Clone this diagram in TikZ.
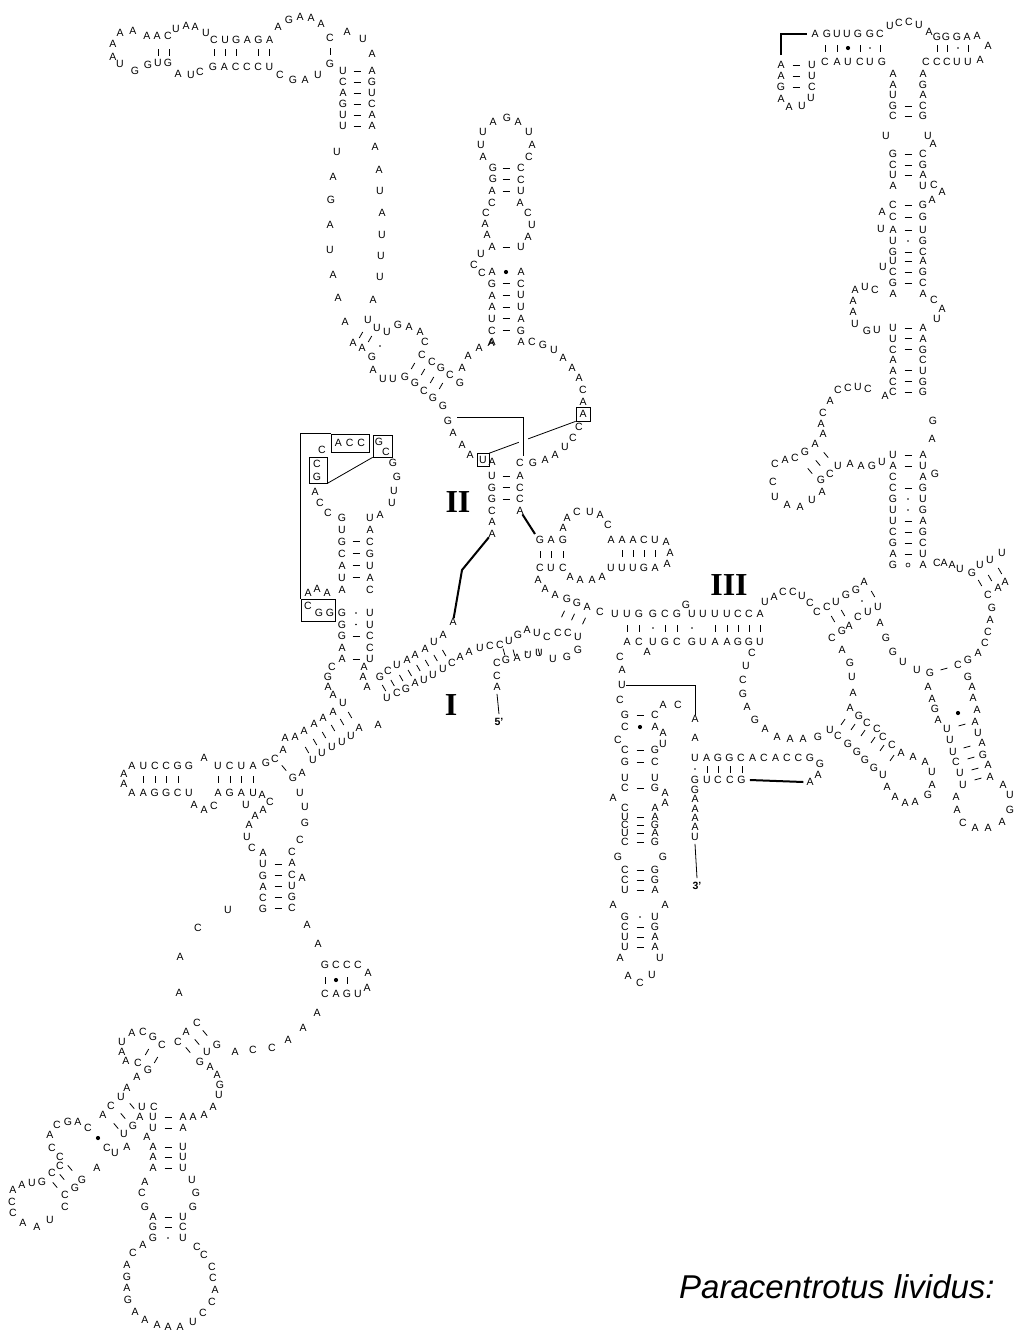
\documentclass[tikz,border=0pt]{standalone}
\usepackage{fontspec}
\setsansfont{Liberation Sans}
\newfontfamily\romanfont{Liberation Serif}
\usetikzlibrary{calc}
\tikzset{
  nt/.style={font=\sffamily\fontsize{10.5}{10.5}\selectfont,inner sep=0pt},
  boxed/.style={draw,line width=0.7pt,inner sep=0pt},
  roman/.style={font=\romanfont\bfseries\fontsize{32}{32}\selectfont,inner sep=0pt},
  endlabel/.style={font=\sffamily\bfseries\fontsize{10.5}{10.5}\selectfont,inner sep=0pt},
  link/.style={line width=0.8pt},
  bold link/.style={line width=2pt}
}
% pair marks: l = bar, d = dot, b = bullet, o = ring, n = none
\newcommand\bpl{\draw[line width=0.8pt] (-3.5,0) -- (3.5,0);}
\newcommand\bpd{\fill (0,0) circle (0.9pt);}
\newcommand\bpb{\fill (0,0) circle (2.1pt);}
\newcommand\bpo{\draw[line width=0.6pt] (0,0) circle (2pt);}
\newcommand\bpn{}
\newcommand\nts[1]{\foreach \px/\py/\ch in {#1}{\node[nt] at (\px,\py) {\ch};}}
\newcommand\strand[5]{\foreach \ch [count=\kk from 0] in {#5}{\node[nt] at ({#1+\kk*(#3)},{#2+\kk*(#4)}) {\ch};}}
\newcommand\bppairs[6]{\foreach \tp [count=\kk from 0] in {#6}{\begin{scope}[shift={({#1+\kk*(#3)},{#2+\kk*(#4)})},rotate=#5]\csname bp\tp\endcsname\end{scope}}}
\newcommand\bpmarks[1]{\foreach \px/\py/\ang/\tp in {#1}{\begin{scope}[shift={(\px,\py)},rotate=\ang]\csname bp\tp\endcsname\end{scope}}}
\begin{document}
\begin{tikzpicture}[x=1pt,y=-1pt]
\useasboundingbox (0,0) rectangle (1013,1331);

% Top left hairpin
\nts{113/57/A,113/44/A,120/33/A,133/31/A,147/36/A,157/36/A,168/36/C,176/29/U,186/26/A,195/27/A,206/33/U}
\strand{214}{40}{11.1}{0}{C,U,G,A,G,A}
\nts{278/27/A,289/20/G,300/17/A,311/18/A,321/24/A,330/38/C,347/32/A,363/39/U,372/54/A}
\nts{120/64/U,135/71/G,148/65/G,158/63/U,168/63/G,178/74/A,191/75/U,200/72/C}
\strand{213}{67}{11.3}{0}{G,A,C,C,C,U}
\nts{280/75/C,293/80/G,305/80/A,318/75/U,330/64/G}
\bpmarks{158/52/90/l,169/52/90/l,214/52/90/l,225/52/90/l,236/52/90/l,258/52/90/l,269/52/90/l,330/51/90/l}
\strand{343}{71}{0}{11}{U,C,A,G,U,U}
\strand{372}{71}{0}{11}{A,G,U,C,A,A}
\bppairs{357}{71}{0}{11}{0}{l,l,l,l,l,l}
\nts{337/152/U,333/177/A,331/200/G,330/225/A,330/250/U,333/275/A,338/298/A,345/322/A}
\nts{375/147/A,379/170/A,380/191/U,382/213/A,382/235/U,381/256/U,380/277/U,373/300/A}

% Junction under the long strands
\nts{368/320/U,377/328/U,387/332/U,398/325/G,409/327/A,420/332/A,425/342/C}
\nts{353/343/A,362/348/A,372/357/G,373/370/A,383/379/U,393/379/U}
\bpmarks{361/335/60/l,370/339/60/l,380/346/0/d}
\nts{422/355/C,432/362/C,441/368/G,450/375/C,460/383/G}
\nts{405/377/G,415/383/G,424/391/C,433/398/G,443/406/G}
\bpmarks{413/366/60/l,423/372/60/l,432/380/60/l,441/386/60/l}
\nts{462/368/A,468/356/A,479/348/A,491/343/A}
\nts{453/433/A,462/445/A,470/455/A,492/462/A}
\node[nt] (gII) at (448,421) {G};
\node[nt,boxed,minimum width=12pt,minimum height=13pt] (ubox) at (483,460) {U};

% Top centre hairpin
\nts{474/265/C,482/273/C,481/254/U,492/247/A,487/235/A,485/224/A,486/213/C,492/203/C,492/191/A,493/179/G,493/168/G,483/157/A,481/145/U,483/132/U,493/122/A,507/118/G,518/122/A,529/132/U,532/145/A,529/157/C}
\strand{492}{272}{0}{11.7}{A,G,A,A,U,C,A}
\strand{521}{168}{0}{11.5}{C,C,U}
\nts{520/203/A,528/213/C,532/225/U,528/237/A,521/247/U}
\strand{521}{272}{0}{11.7}{A,C,U,U,A,G,A}
\bppairs{506}{168}{0}{11.5}{0}{l,l,l}
\bpmarks{506/247/0/l}
\bppairs{506}{272}{0}{11.7}{0}{b,l,l,l,l,l}
\nts{532/342/C,543/345/G,554/350/U,563/358/A,572/368/A,579/378/A,583/390/C,583/402/A,579/427/C,573/438/C,565/447/U,555/455/A,545/460/A,533/463/G}
\node[nt,boxed,minimum width=14pt,minimum height=14pt] (abox) at (583,414) {A};

% Helix II
\strand{492}{476}{0}{11.5}{U,G,G,C,A}
\node[nt] (aIIb) at (492,533.5) {A};
\nts{520/463/C}
\strand{520}{476}{0}{11.5}{A,C,C}
\node[nt] (aII) at (520,510.5) {A};
\bppairs{506}{476}{0}{11.5}{0}{l,l,l}
\node[roman] (two) at (458,502) {II};
\coordinate (k1) at (457,417);
\coordinate (k2) at (523,456);
\draw[link] (k1) -| (k2);
\draw[link] (ubox.north east) -- ($(ubox.north east)!0.34!(abox.south west)$);
\draw[link] ($(ubox.north east)!0.45!(abox.south west)$) -- (abox.south west);

% Left hairpin with boxes
\nts{322/450/C}
\node[nt,boxed,minimum width=38pt,minimum height=18pt] (acc) at (350,443) {A\hspace{4pt}C\hspace{4pt}C};
\node[boxed,minimum width=19pt,minimum height=22pt] (gcb) at (382.5,446) {};
\nts{379/442/G,386/452/C}
\node[boxed,minimum width=18pt,minimum height=26pt] (cgb) at (318,470) {};
\nts{317/464/C,317/477/G}
\node[boxed,minimum width=34pt,minimum height=22pt] (cggb) at (318,610) {};
\nts{308/606/C,319/613/G,330/613/G}
\draw[link] (acc.north west) -| (cggb.north west);
\draw[link] (cgb.south east) -- (gcb.south west);
\nts{393/463/G,397/477/G,394/491/U,392/503/U,380/515/A,315/492/A,320/503/C,328/513/C}
\strand{342}{518}{0}{11.9}{G,U,G,C,A,U,A}
\strand{370}{518}{0}{11.9}{U,A,C,G,U,A,C}
\bppairs{356}{541.8}{0}{11.9}{0}{l,l,l,l}
\nts{308/593/A,317/589/A,327/593/A}
\strand{342}{613}{0}{11.5}{G,G,G,A,A}
\strand{370}{613}{0}{11.5}{U,U,C,C,U}
\bppairs{356}{613}{0}{11.5}{0}{d,d,l,n,l}
\nts{332/667/C,328/677/G,328/687/A,333/695/A,343/703/U,364/667/A,363/677/A,367/687/A}

% Helix I
\nts{380/677/G,388/671/C,397/665/U,407/660/A,415/655/A,425/649/A,434/642/U,443/635/A}
\node[nt] (aI) at (453,622) {A};
\nts{387/698/U,397/693/C,406/689/G,415/683/A,424/680/U,433/675/U,443/669/U,452/663/C,460/657/A,469/652/A,480/648/U,490/646/C,500/645/C,509/641/U,518/635/G,527/630/A,537/633/U,547/637/C,558/633/C,568/633/C,578/637/U}
\bppairs{384}{688}{8.6}{-5}{-60}{l,l,l,l,l,l,l,l}
\nts{506/660/G,517/658/A,528/655/U,539/653/U,553/659/U,567/657/G,578/650/G}
\bpmarks{504/652/105/l,514/653/105/l,527/652/0/d,539/652/105/l}
\nts{497/663/C,497/676/C}
\node[nt] (a5) at (497,687) {A};
\node[endlabel] (p5) at (499,722) {5’};
\draw[link] ([yshift=-3pt]a5.south) -- ([yshift=4pt]p5.north);
\node[roman] (one) at (451,705) {I};
\draw[bold link] (aII) -- (535,534);
\draw[bold link] (aIIb) -- (462,570) -- (aI);

% GAG hairpin
\nts{540/540/G,551/540/A,563/540/G,563/528/A,567/518/A,577/512/C,590/512/U,600/515/A,608/525/C}
\bpmarks{540/554/90/l,551/554/90/l,563/554/90/l}
\nts{540/568/C,551/568/U,563/568/C,570/577/A,580/580/A,592/580/A,602/577/A}
\nts{538/580/A,545/589/A,555/595/A,567/599/G,577/603/G,587/607/A,600/612/C}
\bpmarks{563/614/65/l,573/617/65/l,584/621/65/l}
\nts{611/540/A,622/540/A,633/540/A,644/540/C,655/540/U,666/542/A,670/553/A,667/564/A}
\bpmarks{622/553/90/l,633/553/90/l,644/553/90/l,655/553/90/l}
\strand{611}{568}{11}{0}{U,U,U,G,A}

% Helix III
\nts{615/614/U,627/614/U,639/614/G,653/614/G,665/614/C,677/614/G,686/605/G,692/614/U,703/614/U,715/614/U,727/614/U,738/614/C,749/614/C,760/614/A}
\bpmarks{627/628/90/l,639/628/90/l,653/628/0/d,665/628/90/l,677/628/90/l,692/628/0/d,715/628/90/l,727/628/90/l,738/628/90/l,749/628/90/l,760/628/90/l}
\nts{627/642/A,639/642/C,647/652/A,653/642/U,665/642/G,677/642/C,692/642/G,703/642/U,715/642/A,727/642/A,738/642/G,749/642/G,760/642/U}
\node[roman] (three) at (729,585) {III};

% Long hairpin below helix III
\nts{620/657/C,622/670/A,620/700/C,663/705/A,678/705/C}
\node[nt] (uL) at (622,685) {U};
\nts{625/715/G,625/727/C,618/740/C,625/750/C,625/762/G,625/778/U,625/788/C,613/798/A,625/808/C,625/817/U,625/825/C,625/833/U,625/842/C,618/857/G,625/870/C,625/880/C,625/890/U,613/905/A,625/917/G,625/927/C,625/937/U,625/947/U,620/958/A}
\nts{655/715/C,655/727/A,663/733/A,663/744/U,655/750/G,655/762/C,655/778/U,655/788/G,665/793/A,665/803/A,655/808/A,655/817/A,655/825/G,655/833/A,655/842/G,663/857/G,655/870/G,655/880/G,655/890/A,665/905/A,655/917/U,655/927/G,655/937/A,655/947/A,660/958/U}
\bpmarks{640/715/0/l,640/727/0/b,640/750/0/l,640/762/0/l,640/788/0/l,640/817/0/l,640/825/0/l,640/833/0/l,640/842/0/l,640/870/0/l,640/880/0/l,640/890/0/l,640/917/0/d,640/927/0/l,640/937/0/l,640/947/0/l}
\nts{628/976/A,640/983/C,652/975/U}

% 3' end
\node[nt] (aT) at (695,719) {A};
\nts{695/738/A}
\draw[link] (uL.east) -| (aT.north);
\strand{695}{758}{11.5}{0}{U,A,G,G,C,A,C,A,C,C,G}
\nts{820/764/G,818/775/A}
\node[nt] (aR) at (810,782) {A};
\bpmarks{695/769/0/d,707/769/90/l,718/769/90/l,730/769/90/l,742/769/90/l}
\nts{695/780/G,707/780/U,718/780/C,730/780/C}
\node[nt] (gR) at (741.5,780) {G};
\draw[bold link] ([xshift=4pt]gR.east) -- ([xshift=-3pt]aR.west);
\strand{695}{790}{0}{9.3}{G,A,A,A,A}
\node[nt] (uE) at (695,837) {U};
\node[endlabel] (p3) at (697,886) {3’};
\draw[link] ([yshift=-3pt]uE.south) -- ([yshift=4pt]p3.north);

% Middle multiloop right of III
\nts{765/602/U,774/597/A,783/592/C,793/592/C,802/596/U,810/603/C,817/612/C,827/607/C,836/602/U,846/595/G,856/590/G,864/582/A}
\bpmarks{833/619/-60/l,843/613/-60/l,862/601/0/d,873/594/-60/l}
\nts{878/607/U,868/612/U,858/617/C,849/626/A,842/631/G,832/638/C}
\nts{842/650/A,850/663/G,852/677/U,853/693/A,850/708/A,859/716/G,867/723/C,877/729/C,883/737/C,892/745/C,901/753/A,913/757/A,925/762/A,932/772/U,932/785/A,928/795/G,915/802/A,905/803/A,895/797/A,887/787/A,883/775/U,874/768/G,865/760/G,857/752/G,848/744/G,838/736/C,830/730/U,818/737/G,803/739/A,790/739/A,777/737/A,765/729/A,755/720/G,747/707/A,743/694/G,743/680/C,746/666/U,752/653/C}
\bpmarks{843/722/55/l,853/727/55/l,863/733/55/l,873/740/55/l,882/748/55/l,892/758/55/l}
\nts{880/623/A,886/638/G,893/652/G,903/662/U,917/670/U,930/673/G,958/665/C,968/660/G,978/653/A,985/643/C,988/632/C,990/620/A,992/608/G,988/595/C,998/588/A,1005/582/A}
\bpmarks{944/669/15/l}
\nts{937/563/C,944/563/A,952/565/A,960/569/U,972/573/G,980/565/U,990/560/U,1002/553/U}
\bpmarks{980/583/-60/l,990/578/-60/l,1000/571/-60/l}

% Bottom right hairpin
\nts{928/687/A,932/699/A,935/709/G,938/720/A,947/729/U,950/740/U,953/752/U,956/762/C,960/773/U,963/785/U,956/797/A,957/810/A,963/823/C,975/828/A,988/828/A,1002/822/A,1010/810/G,1010/795/U,1003/785/A,990/777/A,988/765/A,983/755/G,982/743/A,978/733/U,975/722/A,977/710/A,973/698/A,972/687/A,968/677/G}
\bpmarks{958/713/0/b,962/725/15/l,967/747/15/l,971/758/15/l,975/769/15/l,978/779/15/l}

% Right stem
\nts{827/34/G,837/34/U,847/34/U,858/34/G,870/34/G,880/34/C,890/26/U,899/23/C,909/22/C,919/25/U,929/32/A,937/37/G,946/37/G,957/37/G,967/37/A,977/36/A,988/46/A,980/60/A}
\node[nt] (aG) at (815,34) {A};
\bpmarks{825/48/90/l,837/48/90/l,848/48/0/b,860/48/90/l,870/48/0/d,880/48/90/l,937/48/90/l,947/48/90/l,958/48/0/d,968/48/90/l}
\nts{825/62/C,837/62/A,848/62/U,860/62/C,870/62/U,882/62/G,926/62/C,937/62/C,947/62/C,957/62/U,968/62/U}
\node[nt] (aC) at (781,65) {A};
\draw[bold link] ([yshift=6pt]aC.north) |- ([xshift=-4pt]aG.west);
\nts{781/76/A,781/87/G,781/99/A,789/107/A,802/106/U,811/98/U,812/87/C,812/76/U,812/65/U}
\bppairs{796}{65}{0}{11}{0}{l,l,l}
\nts{893/74/A,893/85/A,893/95/U,893/106/G,893/116/C,886/136/U,893/154/G,893/165/C,893/175/U,893/186/A,893/205/C,893/217/C,882/212/A,881/229/U,893/230/A,893/241/U,893/252/G,893/261/U,883/267/U,893/272/C,893/283/G,893/294/A}
\nts{923/74/A,923/85/G,923/95/A,923/106/C,923/116/G,928/136/U,933/144/A,923/154/C,923/165/G,923/175/A,923/186/U,934/185/C,942/192/A,932/200/A,923/205/G,923/217/G,923/230/U,923/241/G,923/252/C,923/261/A,923/272/G,923/283/C,923/294/A}
\bpmarks{908/106/0/l,908/116/0/l,908/154/0/l,908/165/0/l,908/175/0/l,908/205/0/l,908/217/0/l,908/230/0/l,908/241/0/d,908/252/0/l,908/261/0/l,908/272/0/l,908/283/0/l}
\nts{875/290/C,865/287/U,855/290/A,853/301/A,853/312/A,855/324/U,867/331/G,877/330/U,934/300/C,942/309/A,937/319/U}
\strand{893}{328}{0}{10.7}{U,U,C,A,A,C,C}
\strand{923}{328}{0}{10.7}{A,A,G,C,U,G,G}
\bppairs{908}{328}{0}{10.7}{0}{l,l,l,n,l,l,l}
\nts{885/396/A,868/389/C,858/387/U,848/388/C,838/390/C,830/401/A,823/413/C,821/424/A,823/434/A,815/444/A,805/452/G,795/458/C,785/460/A,775/464/C,773/482/C,775/497/U,787/505/A,800/507/A,812/500/U,822/492/A,821/480/G,830/474/C,838/466/U,850/464/A,861/466/A,872/466/G,882/462/U}
\bpmarks{826/455/-50/l,818/463/-50/l,810/471/-50/l}
\nts{933/421/G,932/439/A,935/474/G}
\strand{893}{455}{0}{11}{U,A,C,C,G,U,U,C,G,A,G}
\strand{923}{455}{0}{11}{A,U,A,G,U,G,A,G,C,U,A}
\bppairs{908}{455}{0}{11}{0}{l,l,n,l,d,d,l,l,l,l,o}

% Bottom left: three way junction
\nts{333/712/A,323/718/A,314/724/A,304/731/A,295/737/A,285/738/A,283/750/A,275/759/C,266/763/G}
\bpmarks{350/715/-60/l,342/722/-60/l,333/728/-60/l,324/735/-60/l,315/742/-60/l,307/750/-60/l,284/768/-50/l}
\nts{378/725/A,359/728/A,351/736/U,342/742/U,332/747/U,322/753/U,313/760/U}
\nts{293/778/G,302/773/A,300/793/U,305/807/U,305/823/G,300/840/C}
\nts{124/774/A,124/784/A}
\strand{132}{766}{11.4}{0}{A,U,C,C,G,G}
\strand{132}{793}{11.4}{0}{A,A,G,G,C,U}
\bpmarks{143/779/90/l,155/779/90/l,166/779/90/l,178/779/90/l}
\nts{204/758/A}
\strand{218}{766}{11.7}{0}{U,C,U,A}
\bpmarks{218/779/90/l,230/779/90/l,241/779/90/l,253/779/90/l}
\strand{218}{793}{11.7}{0}{A,G,A,U}
\nts{262/795/A,270/802/C,194/805/A,204/810/A,214/806/C}
\nts{246/805/U,263/810/A,255/816/A,249/825/A,247/837/U,252/848/C}
\strand{263}{853}{0}{11.2}{A,U,G,A,C,G}
\strand{292}{852}{0}{11.2}{C,A,C,U,G,C}
\bppairs{278}{864}{0}{11.2}{0}{l,l,l,l,l}
\nts{302/878/A}
\nts{228/910/U,198/928/C,180/957/A,179/993/A,307/925/A,318/944/A}
\strand{325}{965}{11}{0}{G,C,C,C}
\nts{368/973/A,367/988/A}
\strand{325}{994}{11}{0}{C,A,G,U}
\bpmarks{325/980/90/l,336/980/0/b,347/980/90/l}

% Bottom left: lower domain
\nts{317/1013/A,303/1028/A,288/1040/A,272/1048/C,253/1050/C,235/1052/A}
\nts{178/1042/C,186/1032/A,197/1023/C,217/1045/G,207/1052/U,200/1062/G}
\bpmarks{205/1033/-50/l,197/1042/-50/l,188/1050/-50/l}
\nts{210/1067/A,217/1075/A,220/1085/G,219/1095/U,213/1107/A,204/1115/A,193/1117/A}
\nts{122/1042/U,132/1033/A,143/1032/C,153/1037/G,162/1045/C,122/1052/A,126/1061/A,138/1063/C,148/1070/G}
\bpmarks{147/1052/60/l,156/1060/60/l}
\nts{137/1077/A,127/1088/A,121/1097/U,111/1106/C,103/1115/A}
\bpmarks{132/1106/-50/l,123/1116/-50/l,116/1126/-50/l}
\nts{142/1107/U,154/1107/C,140/1117/A,133/1126/G,124/1134/U,147/1137/A,127/1147/A,115/1153/U,107/1148/C}
\bpmarks{98/1138/0/b}
\nts{153/1117/U,153/1128/U,153/1147/A,153/1157/A,153/1168/A,183/1117/A,183/1128/A,183/1147/U,183/1157/U,183/1168/U}
\bpmarks{168/1117/0/l,168/1128/0/l,168/1147/0/l,168/1157/0/l,168/1168/0/l}
\nts{145/1182/A,142/1193/C,145/1207/G,192/1180/U,196/1193/G,193/1207/G}
\nts{153/1217/A,153/1227/G,153/1238/G,183/1217/U,183/1227/C,183/1238/U}
\bpmarks{168/1217/0/l,168/1227/0/l,168/1238/0/d}
\nts{143/1245/A,133/1253/C,127/1265/A,127/1277/G,127/1288/A,128/1300/G,135/1312/A,145/1320/A,157/1325/A,168/1327/A,180/1327/A,193/1322/U,203/1313/C,212/1302/C,215/1290/A,213/1278/C,212/1267/C,204/1255/C,197/1247/C}
\nts{88/1128/C,78/1122/A,68/1122/G,57/1125/C,50/1135/A,52/1148/C,60/1157/C,97/1168/A}
\nts{13/1190/A,22/1185/A,32/1183/U,42/1182/G,52/1173/C,60/1166/C,82/1180/G,75/1188/G,65/1195/C,65/1207/C,50/1220/U,37/1227/A,23/1223/A,13/1213/C,12/1202/C}
\bpmarks{70/1168/-50/l,62/1177/-50/l,55/1185/-50/l}

% Species label
\node[font=\sffamily\itshape\fontsize{33}{33}\selectfont,anchor=base west,inner sep=0pt] (species) at (679,1298) {Paracentrotus lividus:};
\end{tikzpicture}
\end{document}
